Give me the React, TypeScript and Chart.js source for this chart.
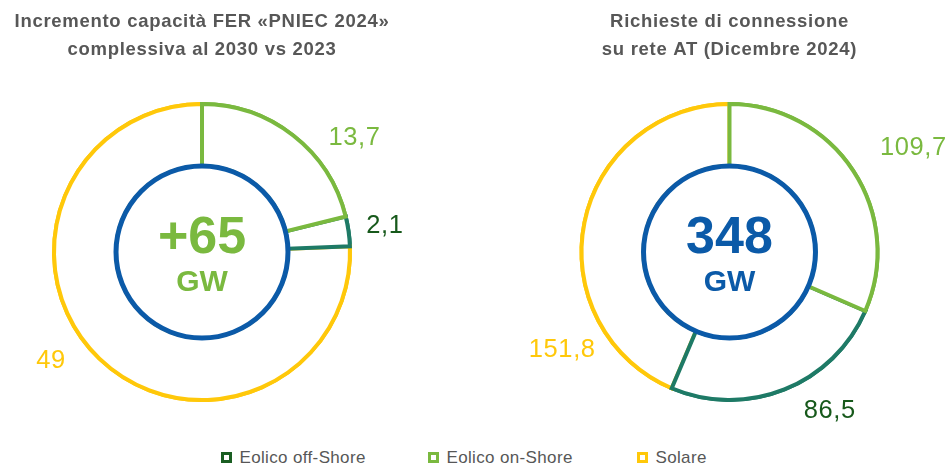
import React, { useEffect, useRef } from 'react';
import { Chart, registerables } from 'chart.js';

Chart.register(...registerables);

// ---------- data ----------
const categories = ['Eolico off-Shore', 'Eolico on-Shore', 'Solare'];
const pniecValues = [2.1, 13.7, 49];
const richiesteValues = [86.5, 109.7, 151.8];
const pniecTotal = '+65';
const richiesteTotal = '348';
const unitLabel = 'GW';
const pniecTitle = ['Incremento capacità FER «PNIEC 2024»', 'complessiva al 2030 vs 2023'];
const richiesteTitle = ['Richieste di connessione', 'su rete AT (Dicembre 2024)'];
// clockwise order of slices from 12 o'clock (indexes into categories)
const sliceOrder = [1, 0, 2];

// ---------- styles ----------
const FONT = '"Liberation Sans", Arial, Helvetica, sans-serif';
const arcColors = ['#1e7a66', '#7ab93f', '#ffc80a'];
const markerColors = ['#1a5e22', '#7ab93f', '#ffc80a'];
const labelColors = ['#17591b', '#7ab93f', '#ffc80a'];
const BLUE = '#0b5aa8';
const GREEN = '#7ab93f';
const GREY = '#575757';
// label placement around each doughnut: [angle in degrees clockwise from top, distance from centre]
const pniecLabelPlace = [[81.3, 185], [52.6, 192], [234.7, 185]];
const richiesteLabelPlace = [[147.4, 186], [60.1, 212], [240.1, 193]];

const fmt = (v: number) => String(v).replace('.', ',');

function makePlugin(values: number[], place: number[][], total: string, totalColor: string) {
  return {
    id: 'ringDecor',
    beforeDraw(chart: any) {
      chart.ctx.letterSpacing = '0.7px';
    },
    afterDatasetsDraw(chart: any) {
      const ctx = chart.ctx;
      const meta = chart.getDatasetMeta(0);
      ctx.save();
      ctx.letterSpacing = '0px';
      // redraw slices in reverse so the first slice's edges sit on top
      for (let i = meta.data.length - 1; i >= 0; i--) meta.data[i].draw(ctx);
      const arc: any = meta.data[0];
      ctx.beginPath();
      ctx.arc(arc.x, arc.y, arc.innerRadius, 0, Math.PI * 2);
      ctx.fillStyle = '#ffffff';
      ctx.fill();
      ctx.lineWidth = 5;
      ctx.strokeStyle = BLUE;
      ctx.stroke();
      ctx.restore();
    },
    afterDraw(chart: any) {
      const ctx = chart.ctx;
      const meta = chart.getDatasetMeta(0);
      const arc: any = meta.data[0];
      const cx = arc.x;
      const cy = arc.y;
      ctx.save();
      ctx.textAlign = 'center';
      ctx.textBaseline = 'alphabetic';
      ctx.letterSpacing = '0.6px';
      const fs = 25.5;
      values.forEach((v, i) => {
        const a = (place[i][0] * Math.PI) / 180;
        const r = place[i][1];
        const lx = cx + r * Math.sin(a);
        const ly = cy - r * Math.cos(a);
        ctx.font = `${fs}px ${FONT}`;
        ctx.fillStyle = labelColors[i];
        ctx.fillText(fmt(v), lx, ly + 0.358 * fs);
      });
      ctx.letterSpacing = '0px';
      ctx.fillStyle = totalColor;
      ctx.font = `bold 52px ${FONT}`;
      ctx.fillText(total, cx, cy + 1);
      ctx.font = `bold 30px ${FONT}`;
      ctx.fillText(unitLabel, cx, cy + 39);
      ctx.restore();
      ctx.letterSpacing = '0px';
    },
  };
}

function DoughnutPanel(props: {
  left: number; width: number; height: number; title: string[]; values: number[];
  place: number[][]; total: string; totalColor: string;
}) {
  const ref = useRef<HTMLCanvasElement>(null);
  useEffect(() => {
    const { title, values, place, total, totalColor } = props;
    const chart = new Chart(ref.current as HTMLCanvasElement, {
      type: 'doughnut',
      data: {
        labels: sliceOrder.map((i) => categories[i]),
        datasets: [
          {
            data: sliceOrder.map((i) => values[i]),
            backgroundColor: '#ffffff',
            borderColor: sliceOrder.map((i) => arcColors[i]),
            borderWidth: 4,
            borderAlign: 'center',
            borderJoinStyle: 'miter',
          } as any,
        ],
      },
      options: {
        responsive: false,
        animation: false,
        devicePixelRatio: 1,
        events: [],
        radius: 148,
        cutout: '58.1%',
        layout: { padding: 0 },
        plugins: {
          legend: { display: false },
          tooltip: { enabled: false },
          title: {
            display: true,
            text: title,
            color: GREY,
            font: { family: FONT, size: 18.5, weight: 'bold', lineHeight: 28 / 18.5 },
            padding: { top: 8, bottom: 10 },
          },
        },
      } as any,
      plugins: [makePlugin(values, place, total, totalColor) as any],
    });
    return () => chart.destroy();
  }, []);
  return (
    <canvas
      ref={ref}
      width={props.width}
      height={props.height}
      style={{ position: 'absolute', left: props.left, top: 0, width: props.width, height: props.height }}
    />
  );
}

const legendLefts = [221, 428, 637];

export default function App() {
  return (
    <div
      style={{
        position: 'fixed', left: 0, top: 0, width: 949, height: 469,
        background: '#ffffff', overflow: 'hidden',
      }}
    >
      <DoughnutPanel left={0} width={404} height={430} title={pniecTitle} values={pniecValues}
        place={pniecLabelPlace} total={pniecTotal} totalColor={GREEN} />
      <DoughnutPanel left={510} width={439} height={430} title={richiesteTitle} values={richiesteValues}
        place={richiesteLabelPlace} total={richiesteTotal} totalColor={BLUE} />
      {categories.map((c, i) => (
        <div
          key={c}
          style={{
            position: 'absolute', left: legendLefts[i], top: 449, height: 17,
            display: 'flex', alignItems: 'center', whiteSpace: 'nowrap',
          }}
        >
          <span
            style={{
              display: 'inline-block', width: 11, height: 11, boxSizing: 'border-box',
              border: `3px solid ${markerColors[i]}`, marginRight: 7.5,
            }}
          />
          <span
            style={{
              fontFamily: FONT, fontSize: 17, lineHeight: '17px', letterSpacing: '0.35px', color: GREY,
            }}
          >
            {c}
          </span>
        </div>
      ))}
    </div>
  );
}
